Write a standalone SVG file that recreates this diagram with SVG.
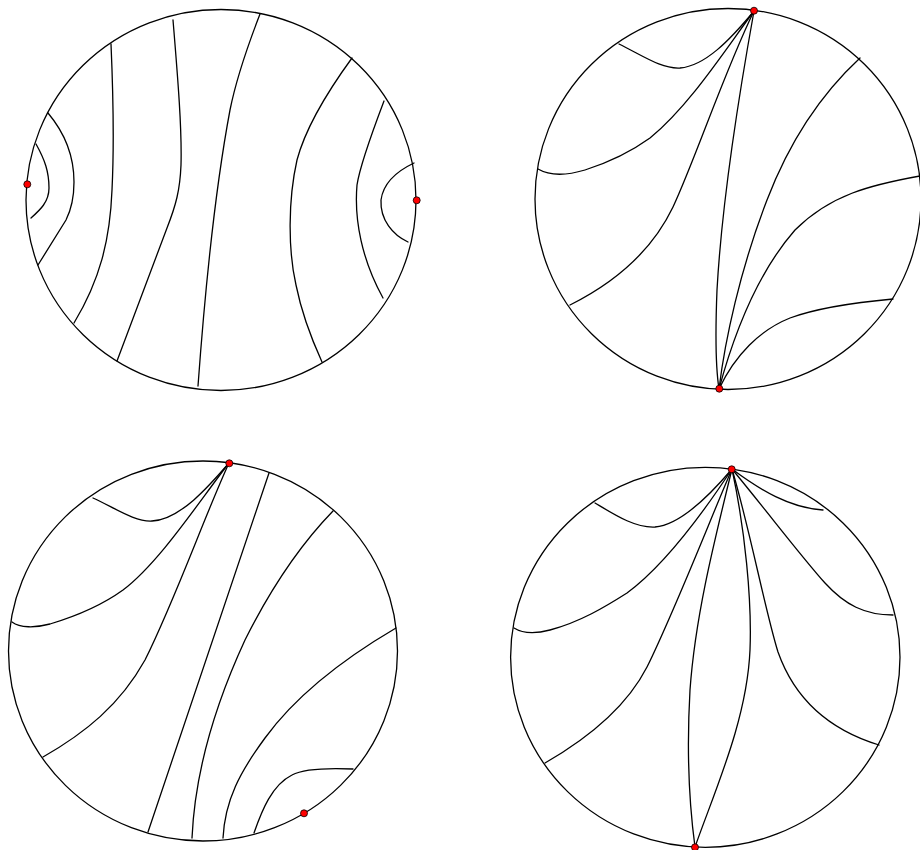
<svg xmlns="http://www.w3.org/2000/svg" width="920" height="850" viewBox="0 0 920 850">
<style>
.disk{fill:none;stroke:#000;stroke-width:1.3}
.c{fill:none;stroke:#000;stroke-width:1.3;stroke-linecap:round}
.pt{fill:#f00;stroke:#000;stroke-width:0.8}
</style>
<rect width="920" height="850" fill="#fff"/>
<g id="panel1">
<ellipse class="disk" cx="221" cy="200" rx="195" ry="190.5"/>
<g id="panel1-curves">
<path class="c" d="M36,144 C45,160 49,172 49,188 C49,202 40,210 31,218"/>
<path class="c" d="M48,113 C64,132 74,155 74,182 C74,200 71,210 66,220 L38,265"/>
<path class="c" d="M111,44 C113,90 114,150 112,190 C110,240 100,280 74,323"/>
<path class="c" d="M173,20 C178,80 182,130 181,165 C180,190 176,205 167,228 L117,361"/>
<path class="c" d="M260,14 C248,45 236,80 230,110 C215,190 205,290 198,386"/>
<path class="c" d="M352,58 C325,95 305,130 297,160 C288,200 288,250 296,285 C302,315 312,340 322,362"/>
<path class="c" d="M384,101 C373,130 360,165 357,185 C354,220 362,260 383,298"/>
<path class="c" d="M414,163 C395,172 383,185 381,200 C380,220 393,235 408,242"/>
</g>
<circle class="pt" cx="27.3" cy="184.3" r="3.5"/>
<circle class="pt" cx="416.7" cy="200.3" r="3.5"/>
</g>
<g id="panel2">
<ellipse class="disk" cx="728" cy="199" rx="193" ry="190.5"/>
<g id="panel2-curves">
<path class="c" d="M619,44 C645,57 662,69 680,68 C705,66 730,40 754,11"/>
<path class="c" d="M538,169 C550,176 565,176 585,170 C610,162 632,151 650,138 C690,105 725,50 754,11"/>
<path class="c" d="M570,305 C610,285 650,255 673,207 C695,160 725,70 754,11"/>
<path class="c" d="M754,11 C738,100 722,200 717,290 C715,340 716,370 719,389"/>
<path class="c" d="M719,389 C725,340 740,270 767,200 C790,140 820,95 860,58"/>
<path class="c" d="M719,389 C735,330 760,270 795,230 C830,195 870,185 920,176"/>
<path class="c" d="M719,389 C735,355 760,330 790,318 C820,307 860,302 893,299"/>
</g>
<circle class="pt" cx="754" cy="10.7" r="3.5"/>
<circle class="pt" cx="719.3" cy="388.7" r="3.5"/>
</g>
<g id="panel3">
<ellipse class="disk" cx="203" cy="651" rx="194.5" ry="190"/>
<g id="panel3-curves">
<path class="c" d="M93,498 C115,508 135,522 152,521 C180,520 210,485 229,463"/>
<path class="c" d="M12,622 C20,628 35,628 50,624 C80,615 105,603 123,590 C160,562 200,500 229,463"/>
<path class="c" d="M43,757 C85,733 120,705 145,660 C175,600 205,515 229,463"/>
<path class="c" d="M269,473 L148,832"/>
<path class="c" d="M333,511 C300,545 270,590 245,640 C215,705 195,770 192,838"/>
<path class="c" d="M396,628 C350,655 300,690 265,738 C240,772 225,800 223,838"/>
<path class="c" d="M353,769 C330,768 305,768 292,775 C272,785 262,810 254,833"/>
</g>
<circle class="pt" cx="229.3" cy="463.3" r="3.5"/>
<circle class="pt" cx="304" cy="813.3" r="3.5"/>
</g>
<g id="panel4">
<ellipse class="disk" cx="705.3" cy="657.3" rx="194.7" ry="190"/>
<g id="panel4-curves">
<path class="c" d="M595,503 C615,515 635,528 655,527 C680,525 710,495 732,469"/>
<path class="c" d="M514,628 C522,633 535,634 550,630 C580,622 605,607 627,593 C665,565 705,510 732,469"/>
<path class="c" d="M545,763 C585,740 625,710 647,667 C675,610 710,520 732,469"/>
<path class="c" d="M732,469 C712,550 695,620 690,690 C686,760 690,810 695,847"/>
<path class="c" d="M732,469 C745,530 752,600 750,650 C747,720 715,790 695,847"/>
<path class="c" d="M732,469 C750,530 765,610 778,652 C795,700 830,730 879,745"/>
<path class="c" d="M732,469 C760,490 790,508 823,510"/>
<path class="c" d="M732,469 C770,515 800,555 825,583 C845,605 865,615 893,615"/>
</g>
<circle class="pt" cx="731.7" cy="469.3" r="3.5"/>
<circle class="pt" cx="695" cy="847.3" r="3.5"/>
</g>
</svg>
